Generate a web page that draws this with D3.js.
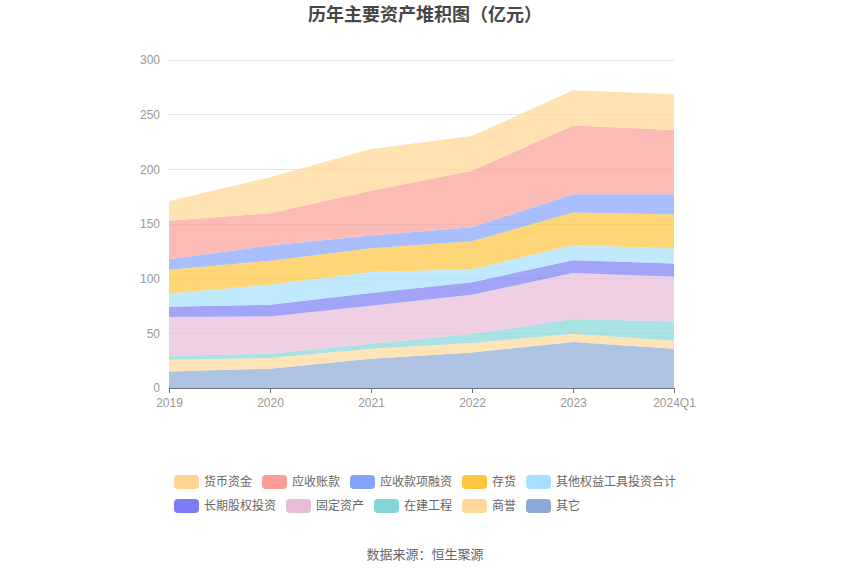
<!DOCTYPE html>
<html><head><meta charset="utf-8">
<script src="https://cdn.jsdelivr.net/npm/d3@7"></script>
<style>body{margin:0;background:#fff;} svg{display:block;font-family:"Noto Sans CJK SC","Noto Sans",sans-serif;}</style>
</head><body>
<svg id="c" width="850" height="575"></svg>
<script>
const categories = ["2019","2020","2021","2022","2023","2024Q1"];
const yTicks = [0,50,100,150,200,250,300];
// series listed bottom to top
const seriesNames = ["其它","商誉","在建工程","固定资产","长期股权投资","其他权益工具投资合计","存货","应收款项融资","应收账款","货币资金"];
const qita      = [15.2, 17.6, 26.8, 32.5, 42.0, 35.9];
const shangyu   = [10.7,  9.8,  9.1,  8.6,  7.6,  7.3];
const zaijian   = [ 3.6,  3.9,  4.6,  8.2, 13.4, 17.7];
const guding    = [35.4, 34.2, 34.7, 36.0, 42.1, 40.8];
const changqi   = [ 9.4, 10.6, 11.6, 11.5, 11.8, 12.2];
const qitaquanyi= [12.2, 18.3, 19.2, 11.9, 13.8, 13.7];
const cunhuo    = [21.6, 21.9, 21.9, 25.6, 29.8, 31.0];
const rongzi    = [ 9.7, 14.0, 11.5, 12.8, 16.8, 18.7];
const zhangkuan = [35.1, 29.6, 40.9, 51.5, 62.7, 58.7];
const huobi     = [18.2, 32.9, 38.4, 31.9, 32.3, 32.6];
const seriesValues = [qita, shangyu, zaijian, guding, changqi, qitaquanyi, cunhuo, rongzi, zhangkuan, huobi];
const legendOrder = ["货币资金","应收账款","应收款项融资","存货","其他权益工具投资合计","长期股权投资","固定资产","在建工程","商誉","其它"];
const colors = {"货币资金":"#ffd591","应收账款":"#fb9f96","应收款项融资":"#84a3fc","存货":"#ffc53d","其他权益工具投资合计":"#a6e0fe","长期股权投资":"#7b7df5","固定资产":"#e8bbd9","在建工程":"#83d6d6","商誉":"#ffd898","其它":"#8ca9d8"};

const svg = d3.select("#c");
const L=169, R=674, T=60, B=388;
const numFont = '"Liberation Sans","DejaVu Sans",sans-serif';
const x = d3.scalePoint().domain(categories).range([L,R]);
const y = d3.scaleLinear().domain([0,300]).range([B,T]);

const rows = categories.map((c,i)=>{const o={cat:c}; seriesNames.forEach((n,k)=>o[n]=seriesValues[k][i]); return o;});
const stacked = d3.stack().keys(seriesNames)(rows);

// grid
svg.append("g").selectAll("line").data(yTicks.filter(d=>d>0)).join("line")
  .attr("x1",L).attr("x2",R).attr("y1",d=>y(d)).attr("y2",d=>y(d))
  .attr("stroke","#e0e6f1").attr("stroke-width",1).attr("shape-rendering","crispEdges");

const area = d3.area().x(d=>x(d.data.cat)).y0(d=>y(d[0])).y1(d=>y(d[1]));
svg.append("g").selectAll("path").data(stacked).join("path")
  .attr("d",area).attr("fill",d=>colors[d.key]).attr("fill-opacity",0.7);

// y labels
svg.append("g").selectAll("text").data(yTicks).join("text")
  .attr("x",L-9).attr("y",d=>y(d)).attr("dy","0.35em").attr("text-anchor","end")
  .style("font-family",numFont).attr("font-size",12).attr("fill","#999").text(d=>d);

// x axis
const xa = svg.append("g").attr("transform",`translate(0,${B})`).call(d3.axisBottom(x).tickSize(5).tickSizeOuter(0));
xa.select(".domain").attr("stroke","#6e7079");
xa.selectAll(".tick line").attr("stroke","#6e7079");
xa.selectAll(".tick text").attr("font-size",12).attr("fill","#999").attr("dy","0.95em")
  .style("font-family",numFont);

// title
svg.append("text").attr("x",425).attr("y",21).attr("text-anchor","middle")
  .attr("font-size",18).attr("font-weight","bold").attr("fill","#464646").text("历年主要资产堆积图（亿元）");

// legend
const lg = svg.append("g");
let lx=174, ly=482; const maxR = 690;
legendOrder.forEach(n=>{
  const w = 25+5+n.length*12;
  if(lx + w > maxR){ lx=174; ly+=24; }
  lg.append("rect").attr("x",lx).attr("y",ly-7).attr("width",25).attr("height",14).attr("rx",4)
    .attr("fill",colors[n]);
  lg.append("text").attr("x",lx+30).attr("y",ly).attr("dy","0.35em").attr("font-size",12).attr("fill","#666").text(n);
  lx += w + 10;
});

svg.append("text").attr("x",425).attr("y",559).attr("text-anchor","middle")
  .attr("font-size",13).attr("fill","#666").text("数据来源：恒生聚源");
</script>
</body></html>
